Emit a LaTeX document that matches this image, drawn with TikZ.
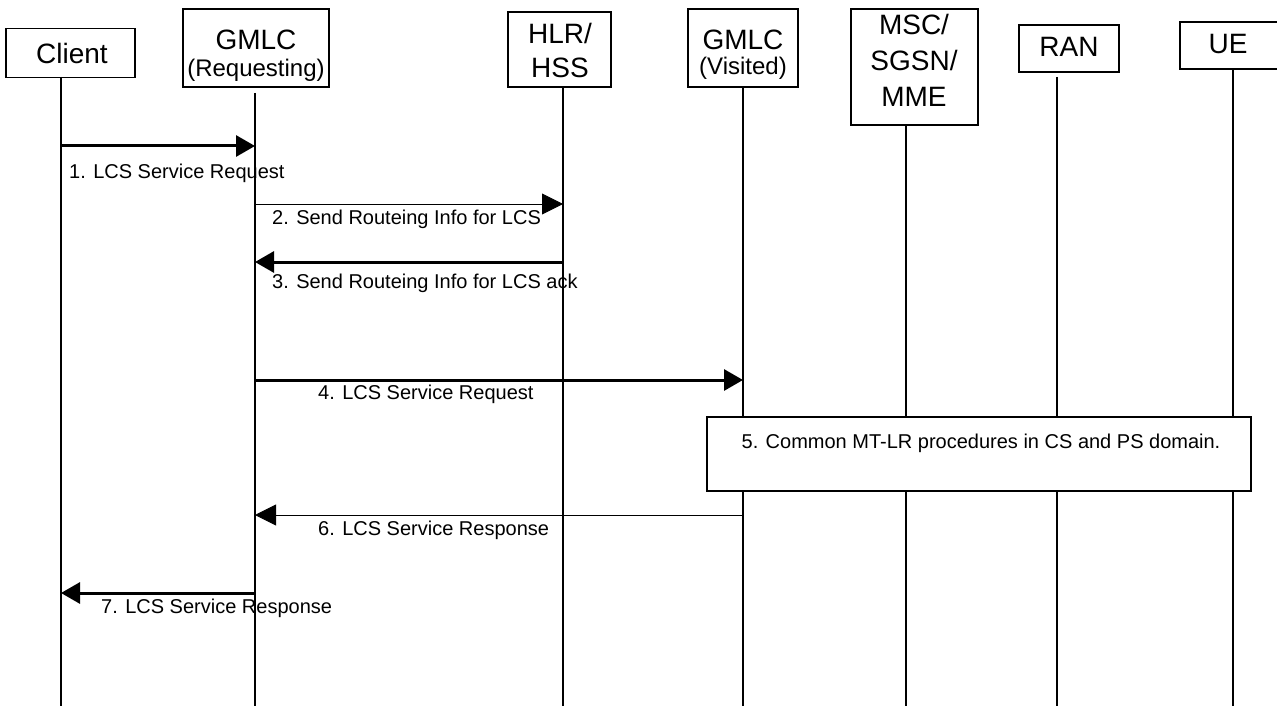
\documentclass[tikz,border=0pt]{standalone}
\usepackage{fontspec}
\setmainfont{Liberation Sans}
\usetikzlibrary{arrows.meta}
\begin{document}
\begin{tikzpicture}[x=1pt,y=-1pt,
  ent/.style={draw,line width=1.6pt,fill=white,inner sep=0pt,align=center},
  hfont/.style={font=\fontsize{28}{31}\selectfont},
  life/.style={line width=1.5pt},
  thickmsg/.style={line width=3pt,-{Triangle[length=19pt,width=21pt]}},
  thinmsg/.style={line width=0.9pt,-{Triangle[length=21pt,width=21pt]}},
  lbl/.style={anchor=west,inner sep=0pt,font=\fontsize{20}{24}\selectfont}]
\useasboundingbox (0,0) rectangle (1277,706);
% entity boxes
\node[ent,minimum width=129,minimum height=49] (client) at (70.5,53) {};
\node[hfont] (clientT) at (72,53) {Client};
\node[ent,minimum width=146,minimum height=78] (gmlcr) at (256,48) {};
\node[hfont] (gmlcrT1) at (256,40) {GMLC};
\node[font=\fontsize{24}{28}\selectfont] (gmlcrT2) at (256,70) {(Requesting)};
\node[ent,minimum width=103,minimum height=75] (hlr) at (559.5,49.5) {};
\node[hfont] (hlrT1) at (560,33) {HLR/};
\node[hfont] (hlrT2) at (560,68) {HSS};
\node[ent,minimum width=110,minimum height=78] (gmlcv) at (743,48) {};
\node[hfont] (gmlcvT1) at (743,40) {GMLC};
\node[font=\fontsize{24}{28}\selectfont] (gmlcvT2) at (743,68) {(Visited)};
\node[ent,minimum width=127,minimum height=116] (msc) at (914.5,67) {};
\node[hfont] (mscT1) at (914,24) {MSC/};
\node[hfont] (mscT2) at (914,60) {SGSN/};
\node[hfont] (mscT3) at (914,97) {MME};
\node[ent,minimum width=100,minimum height=47] (ran) at (1069,48.5) {};
\node[hfont] (ranT) at (1069,47) {RAN};
\node[ent,minimum width=98,minimum height=47] (ue) at (1229,45.5) {};
\node[hfont] (ueT) at (1228,44) {UE};
% lifelines
\path (61,77) coordinate (cl0) (61,706) coordinate (cl1)
      (255,93) coordinate (gr0) (255,706) coordinate (gr1)
      (563,87) coordinate (hl0) (563,706) coordinate (hl1)
      (743,87) coordinate (gv0) (743,706) coordinate (gv1)
      (906,125) coordinate (ms0) (906,706) coordinate (ms1)
      (1057,77) coordinate (ra0) (1057,706) coordinate (ra1)
      (1233,69) coordinate (ue0) (1233,706) coordinate (ue1);
\foreach \a in {cl,gr,hl,gv,ms,ra,ue} \draw[life] (\a0) -- (\a1);
% messages
\path (61,146) coordinate (m1a) (255,146) coordinate (m1b)
      (255,204) coordinate (m2a) (563,204) coordinate (m2b)
      (563,262) coordinate (m3a) (255,262) coordinate (m3b)
      (255,380) coordinate (m4a) (743,380) coordinate (m4b)
      (743,515) coordinate (m6a) (255,515) coordinate (m6b)
      (255,593) coordinate (m7a) (61,593) coordinate (m7b);
\draw[thickmsg] (m1a) -- (m1b);
\node[lbl] (l1) at (69,173) {1. LCS Service Request};
\draw[thinmsg] (m2a) -- (m2b);
\node[lbl] (l2) at (272,219) {2. Send Routeing Info for LCS};
\draw[thickmsg] (m3a) -- (m3b);
\node[lbl] (l3) at (272,283) {3. Send Routeing Info for LCS ack};
\draw[thickmsg] (m4a) -- (m4b);
\node[lbl] (l4) at (318,394) {4. LCS Service Request};
% box 5
\node[ent,minimum width=544,minimum height=74] (b5) at (979,454) {};
\node[font=\fontsize{20}{24}\selectfont,inner sep=0pt] (b5t) at (981,443) {5. Common MT-LR procedures in CS and PS domain.};
\draw[thinmsg] (m6a) -- (m6b);
\node[lbl] (l6) at (318,530) {6. LCS Service Response};
\draw[thickmsg] (m7a) -- (m7b);
\node[lbl] (l7) at (101,608) {7. LCS Service Response};
\end{tikzpicture}
\end{document}
